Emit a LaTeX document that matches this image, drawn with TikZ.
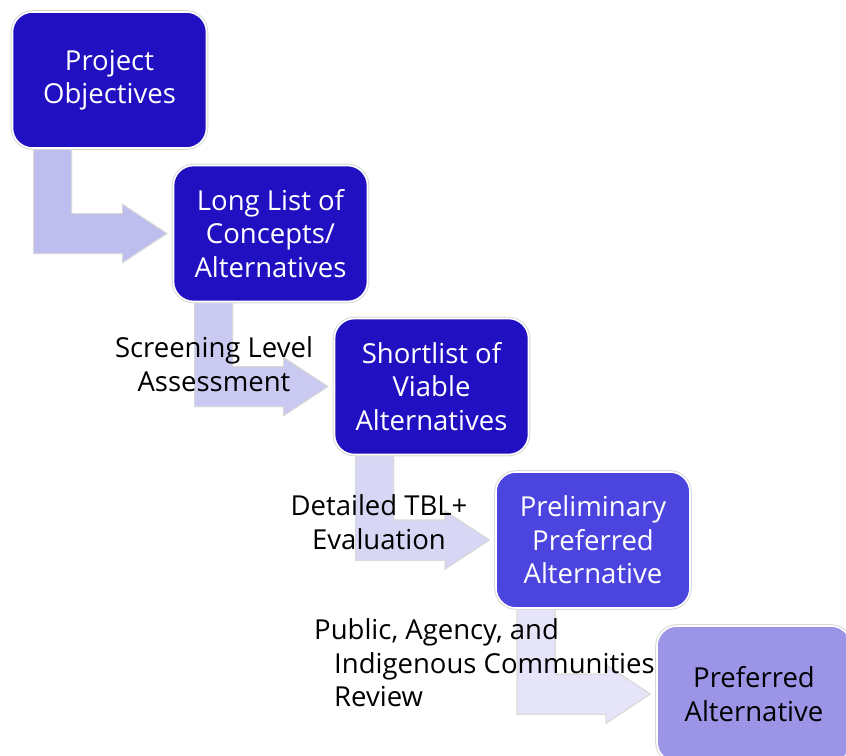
\documentclass[tikz,border=0pt]{standalone}
\usepackage{fontspec}
\setmainfont{Open Sans}
\usetikzlibrary{calc,backgrounds}

\definecolor{deepblue}{HTML}{2110C1}
\definecolor{midblue}{HTML}{4C44DE}
\definecolor{paleblue}{HTML}{9C95E7}
\definecolor{arrowA}{HTML}{BDBDEE}
\definecolor{arrowB}{HTML}{C9C9F1}
\definecolor{arrowC}{HTML}{D7D6F5}
\definecolor{arrowD}{HTML}{E6E4F8}
\definecolor{rim}{HTML}{D8D8D8}

\tikzset{
  stage/.style={rounded corners=20pt, minimum width=194pt, minimum height=136pt,
    align=center, text=white, fill=#1, draw=white, line width=1.6pt,
    preaction={draw=rim, line width=3.6pt},
    font=\fontsize{27.5}{33.5}\selectfont},
  note/.style={align=center, text=black, font=\fontsize{27.5}{33.5}\selectfont,
    inner sep=0pt},
  flow/.style={fill=#1, draw=rim, line width=1pt, line join=miter}
}

% bent arrow from the bottom of stage #1 into the left side of stage #2
\newcommand\bentarrow[3]{%
  \coordinate (#1#2sa) at ($(#1.south west)+(22,0)$);
  \coordinate (#1#2sb) at ($(#1.south west)+(60,0)$);
  \coordinate (#1#2tip) at ($(#2.west)+(-6,0)$);
  \fill[flow=#3]
    (#1#2sa) -- (#1#2sb) -- (#1#2sb |- {$(#2.west)+(0,-20)$})
    -- ($(#2.west)+(-50,-20)$) -- ($(#2.west)+(-50,-29)$)
    -- (#1#2tip)
    -- ($(#2.west)+(-50,29)$) -- ($(#2.west)+(-50,20)$)
    -- (#1#2sa |- {$(#2.west)+(0,20)$}) -- cycle;
  \draw[flow=#3]
    (#1#2sa) -- (#1#2sa |- {$(#2.west)+(0,20)$})
    -- ($(#2.west)+(-50,20)$) -- ($(#2.west)+(-50,29)$)
    -- (#1#2tip)
    -- ($(#2.west)+(-50,-29)$) -- ($(#2.west)+(-50,-20)$)
    -- (#1#2sb |- {$(#2.west)+(0,-20)$}) -- (#1#2sb);
}

\begin{document}
\begin{tikzpicture}[x=1pt,y=-1pt]
  \useasboundingbox (0,0) rectangle (846,755);

  \node[stage=deepblue] (objectives) at (109.5,80) {Project\\Objectives};
  \node[stage=deepblue] (longlist) at (270.5,233.5) {Long List of\\Concepts/\\Alternatives};
  \node[stage=deepblue] (shortlist) at (431.5,386.5) {Shortlist of\\Viable\\Alternatives};
  \node[stage=midblue] (prelim) at (593,540) {Preliminary\\Preferred\\Alternative};
  \node[stage=paleblue, text=black] (preferred) at (754,694) {Preferred\\Alternative};

  \begin{pgfonlayer}{background}
    \bentarrow{objectives}{longlist}{arrowA}
    \bentarrow{longlist}{shortlist}{arrowB}
    \bentarrow{shortlist}{prelim}{arrowC}
    \bentarrow{prelim}{preferred}{arrowD}
  \end{pgfonlayer}

  \node[note] (screening) at (214,364) {Screening Level\\Assessment};
  \node[note] (detailed) at (379,522) {Detailed TBL+\\Evaluation};
  \node[note, align=left, anchor=west] (review) at (314,663)
    {Public, Agency, and\\\hspace*{20pt}Indigenous Communities\\\hspace*{20pt}Review};
\end{tikzpicture}
\end{document}
